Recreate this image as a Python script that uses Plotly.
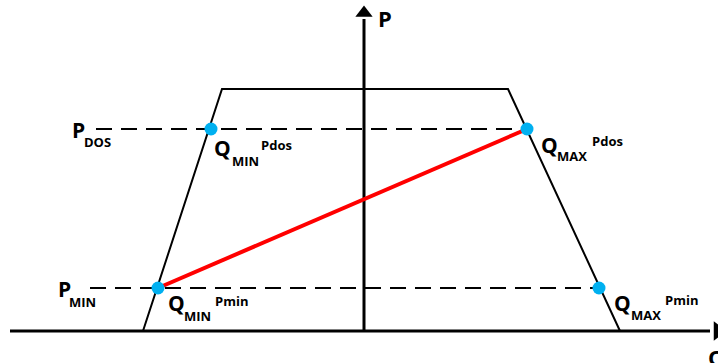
import plotly.graph_objects as go

# ---- data (Q horizontal, P vertical; origin at axes crossing) ----
Q_TRAP = [-221, -142, 144, 256]
P_TRAP = [0, 242, 242, 0]

P_DOS = 202
P_MIN = 43

Q_MIN_PDOS = -153
Q_MAX_PDOS = 163
Q_MIN_PMIN = -206
Q_MAX_PMIN = 235

Q_DASH_START_DOS = -268
Q_DASH_START_MIN = -274

Q_AXIS = [-354, 354]
P_AXIS = [0, 318]

FONT = "Open Sans"

fig = go.Figure()

# trapezoid (operating region)
fig.add_trace(go.Scatter(x=Q_TRAP, y=P_TRAP, mode="lines",
                         line=dict(color="black", width=2), hoverinfo="skip"))

# dashed power levels
fig.add_trace(go.Scatter(x=[Q_DASH_START_DOS, Q_MAX_PDOS], y=[P_DOS, P_DOS], mode="lines",
                         line=dict(color="black", width=2, dash="16px,9px"), hoverinfo="skip"))
fig.add_trace(go.Scatter(x=[Q_DASH_START_MIN, Q_MAX_PMIN], y=[P_MIN, P_MIN], mode="lines",
                         line=dict(color="black", width=2, dash="16px,9px"), hoverinfo="skip"))

# axes
fig.add_trace(go.Scatter(x=[Q_AXIS[0], Q_AXIS[1] - 8], y=[0, 0], mode="lines",
                         line=dict(color="black", width=3), hoverinfo="skip"))
fig.add_trace(go.Scatter(x=[0, 0], y=[P_AXIS[0], P_AXIS[1] - 6], mode="lines",
                         line=dict(color="black", width=3), hoverinfo="skip"))
fig.add_trace(go.Scatter(x=[0], y=[P_AXIS[1]], mode="markers",
                         marker=dict(symbol="triangle-up", size=15, color="black"), hoverinfo="skip"))
fig.add_trace(go.Scatter(x=[Q_AXIS[1]], y=[0], mode="markers",
                         marker=dict(symbol="triangle-right", size=17, color="black"), hoverinfo="skip"))

# red segment
fig.add_trace(go.Scatter(x=[Q_MIN_PMIN, Q_MAX_PDOS], y=[P_MIN, P_DOS], mode="lines",
                         line=dict(color="#FF0000", width=4), hoverinfo="skip"))

# blue points
fig.add_trace(go.Scatter(x=[Q_MIN_PDOS, Q_MAX_PDOS, Q_MIN_PMIN, Q_MAX_PMIN],
                         y=[P_DOS, P_DOS, P_MIN, P_MIN], mode="markers",
                         marker=dict(size=13, color="#00B0F0"), hoverinfo="skip"))


def txt(q, p, text, dx, dy, size):
    fig.add_annotation(x=q, y=p, xref="x", yref="y", text=text, showarrow=False,
                       xanchor="left", yanchor="middle", xshift=dx, yshift=-dy,
                       font=dict(family=FONT, size=size, color="black", weight="bold"))


def label(q, p, main, sub, sup, offs):
    (mx, my), (sx, sy), (ux, uy) = offs
    txt(q, p, main, mx, my, 21)
    txt(q, p, sub, sx, sy, 13)
    if sup:
        txt(q, p, sup, ux, uy, 13)


label(Q_MIN_PDOS, P_DOS, "Q", "MIN", "Pdos", [(1, 19), (19, 32), (48, 16)])
label(Q_MIN_PMIN, P_MIN, "Q", "MIN", "Pmin", [(8, 15), (24, 28), (55, 13)])
label(Q_MAX_PDOS, P_DOS, "Q", "MAX", "Pdos", [(12, 16), (28, 27), (63, 12)])
label(Q_MAX_PMIN, P_MIN, "Q", "MAX", "Pmin", [(13, 15), (30, 27), (64, 12)])

label(Q_DASH_START_DOS, P_DOS, "P", "DOS", None, [(-26, 1), (-14, 13), (0, 0)])
label(Q_DASH_START_MIN, P_MIN, "P", "MIN", None, [(-34, 1), (-23, 14), (0, 0)])

# axis names
txt(0, P_AXIS[1], "P", 12, 5, 22)
txt(Q_AXIS[1], 0, "Q", -12, 26, 22)

fig.update_layout(
    width=718, height=363,
    margin=dict(l=0, r=0, t=0, b=0),
    paper_bgcolor="white", plot_bgcolor="white",
    showlegend=False,
    xaxis=dict(range=[-364, 354], visible=False, fixedrange=True),
    yaxis=dict(range=[-32, 331], visible=False, fixedrange=True),
)

fig.write_html("out.html", config={"displayModeBar": False},
               post_script="document.body.style.margin='0';document.body.style.overflow='hidden';")
